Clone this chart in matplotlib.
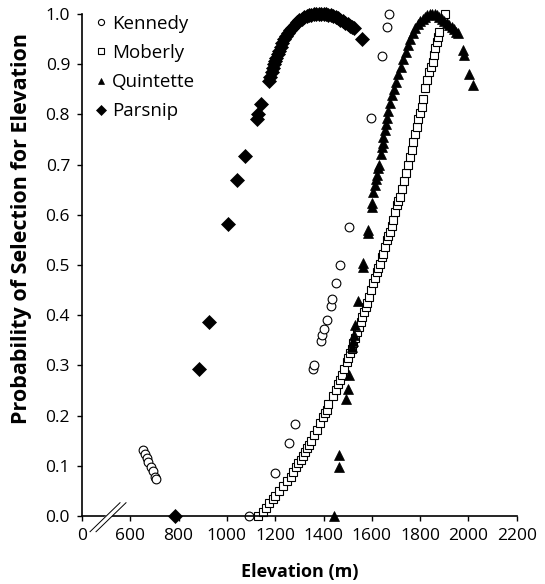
import numpy as np
import matplotlib
matplotlib.use("Agg")
import matplotlib.pyplot as plt

plt.rcParams['font.family'] = ['Open Sans', 'DejaVu Sans']

# data (elevation in m, probability)
# note: the "0" on the x axis sits at 400 (broken axis)
kennedy_x = [654, 660, 668, 675, 686, 692, 702, 706, 1093, 1199, 1256, 1282,
             1355, 1359, 1388, 1395, 1402, 1414, 1430, 1436, 1452, 1469, 1505,
             1595, 1642, 1663, 1672]
kennedy_y = [0.131, 0.123, 0.115, 0.108, 0.098, 0.090, 0.078, 0.074, 0.0, 0.086,
             0.145, 0.183, 0.292, 0.300, 0.348, 0.360, 0.373, 0.390, 0.418, 0.432,
             0.465, 0.500, 0.575, 0.793, 0.916, 0.975, 1.0]

moberly_x = [1127, 1150, 1162, 1175, 1190, 1200, 1215, 1233, 1250, 1264, 1275,
             1286, 1295, 1305, 1315, 1323, 1332, 1341, 1350, 1360, 1372, 1385,
             1396, 1405, 1413, 1420, 1440, 1452, 1460, 1468, 1475, 1485, 1496,
             1503, 1510, 1516, 1523, 1532, 1540, 1547, 1554, 1560, 1567, 1575,
             1581, 1589, 1597, 1606, 1613, 1620, 1627, 1634, 1641, 1647, 1654,
             1661, 1668, 1675, 1682, 1689, 1696, 1703, 1710, 1717, 1725, 1733,
             1741, 1750, 1758, 1765, 1772, 1779, 1786, 1792, 1799, 1806, 1813,
             1820, 1829, 1838, 1845, 1852, 1857, 1861, 1868, 1875, 1879, 1903]
moberly_y = [0.0, 0.008, 0.016, 0.025, 0.033, 0.040, 0.050, 0.060, 0.070, 0.078,
             0.088, 0.098, 0.105, 0.112, 0.120, 0.128, 0.135, 0.141, 0.150, 0.161,
             0.171, 0.185, 0.197, 0.205, 0.211, 0.223, 0.240, 0.252, 0.262, 0.271,
             0.281, 0.293, 0.307, 0.315, 0.324, 0.333, 0.344, 0.355, 0.367, 0.377,
             0.387, 0.397, 0.407, 0.416, 0.424, 0.437, 0.450, 0.464, 0.475, 0.487,
             0.495, 0.503, 0.515, 0.522, 0.535, 0.550, 0.558, 0.566, 0.578, 0.590,
             0.605, 0.620, 0.628, 0.636, 0.652, 0.668, 0.684, 0.700, 0.716, 0.730,
             0.745, 0.760, 0.775, 0.790, 0.802, 0.815, 0.830, 0.852, 0.868, 0.885,
             0.895, 0.905, 0.918, 0.932, 0.944, 0.955, 0.965, 1.0]

quintette_x = [1443, 1463, 1465, 1493, 1500, 1507, 1517, 1522, 1526, 1530, 1541,
               1562, 1564, 1585, 1586, 1599, 1600, 1606, 1612, 1617, 1622, 1627,
               1630, 1637, 1641, 1645, 1648, 1654, 1657, 1661, 1668, 1675, 1682,
               1690, 1700, 1710, 1720, 1730, 1740, 1750, 1760, 1770, 1780, 1790,
               1800, 1810, 1820, 1830, 1840, 1850, 1860, 1870, 1880, 1890, 1900,
               1910, 1920, 1930, 1940, 1950, 1958, 1979, 1981, 2003, 2017]
quintette_y = [0.0, 0.098, 0.121, 0.233, 0.254, 0.281, 0.337, 0.348, 0.360, 0.380,
               0.429, 0.497, 0.505, 0.563, 0.570, 0.616, 0.624, 0.646, 0.660, 0.671,
               0.680, 0.693, 0.700, 0.722, 0.735, 0.744, 0.755, 0.769, 0.780, 0.792,
               0.806, 0.823, 0.838, 0.850, 0.865, 0.880, 0.895, 0.910, 0.925, 0.938,
               0.950, 0.962, 0.972, 0.980, 0.986, 0.991, 0.995, 0.998, 1.0, 1.0,
               1.0, 0.998, 0.995, 0.990, 0.986, 0.982, 0.978, 0.974, 0.970, 0.965,
               0.962, 0.928, 0.918, 0.880, 0.859]

parsnip_x = [785, 884, 926, 1004, 1042, 1075, 1125, 1130, 1141, 1175, 1180, 1185,
             1190, 1195, 1200, 1205, 1210, 1215, 1222, 1230, 1238, 1245, 1253,
             1262, 1270, 1280, 1290, 1300, 1310, 1320, 1330, 1340, 1350, 1360,
             1370, 1380, 1390, 1400, 1410, 1420, 1430, 1440, 1450, 1460, 1470,
             1480, 1490, 1500, 1510, 1520, 1526, 1558]
parsnip_y = [0.0, 0.293, 0.386, 0.582, 0.670, 0.717, 0.790, 0.800, 0.820, 0.866,
             0.875, 0.885, 0.893, 0.900, 0.906, 0.913, 0.920, 0.927, 0.935, 0.943,
             0.950, 0.957, 0.963, 0.968, 0.973, 0.979, 0.984, 0.988, 0.991, 0.994,
             0.996, 0.998, 0.999, 1.0, 1.0, 1.0, 1.0, 1.0, 1.0, 0.999, 0.998,
             0.996, 0.994, 0.992, 0.989, 0.986, 0.983, 0.980, 0.977, 0.975, 0.973,
             0.950]

x_ticks = [400, 600, 800, 1000, 1200, 1400, 1600, 1800, 2000, 2200]
x_tick_labels = ['0', '600', '800', '1000', '1200', '1400', '1600', '1800', '2000', '2200']
y_ticks = np.round(np.arange(0, 1.01, 0.1), 1)

fig = plt.figure(figsize=(5.45, 5.84), dpi=100)
ax = fig.add_axes([0.1505, 0.1164, 0.7976, 0.8596])

ax.plot(kennedy_x, kennedy_y, 'o', ms=6.3, mfc='white', mec='black', mew=0.8,
        label='Kennedy', clip_on=False)
ax.plot(moberly_x, moberly_y, 's', ms=6, mfc='white', mec='black', mew=0.8,
        label='Moberly', clip_on=False)
ax.plot(quintette_x, quintette_y, '^', ms=7, mfc='black', mec='black', mew=0.5,
        label='Quintette', clip_on=False)
ax.plot(parsnip_x, parsnip_y, 'D', ms=7, mfc='black', mec='black', mew=0.5,
        label='Parsnip', clip_on=False)

ax.set_xlim(400, 2200)
ax.set_ylim(0, 1.0)
ax.set_xticks(x_ticks)
ax.set_xticklabels(x_tick_labels)
ax.set_yticks(y_ticks)
ax.set_yticklabels([f'{v:.1f}' for v in y_ticks])
ax.tick_params(direction='out', length=3.6, width=1.0, labelsize=12.5, pad=5)

for s in ['top', 'right']:
    ax.spines[s].set_visible(False)
for s in ['left', 'bottom']:
    ax.spines[s].set_linewidth(1.2)

# axis break marks between 0 and 600
ax.fill([0.0184, 0.0874, 0.0966, 0.0322], [-0.0313, 0.0265, 0.0265, -0.0313],
        color='white', transform=ax.transAxes, clip_on=False, zorder=5)
for dx in [0.0, 0.0138]:
    ax.plot([0.0184 + dx, 0.0874 + dx], [-0.0313, 0.0265], color='black', lw=0.7,
            transform=ax.transAxes, clip_on=False, zorder=6)

fig.text(299.5 / 545, 7 / 584, 'Elevation (m)', fontsize=13, fontweight='bold',
         ha='center', va='baseline')
fig.text(22 / 545, 1 - 228 / 584, 'Probability of Selection for Elevation',
         rotation=90, fontsize=15.5, fontweight='bold', ha='center', va='center')

ax.legend(loc='upper left', bbox_to_anchor=(0.0, 1.025), frameon=False,
          fontsize=13.5, markerscale=0.7, handlelength=0.6, handletextpad=0.3,
          labelspacing=0.6, borderpad=0.2)

fig.savefig('out.png', dpi=100)
